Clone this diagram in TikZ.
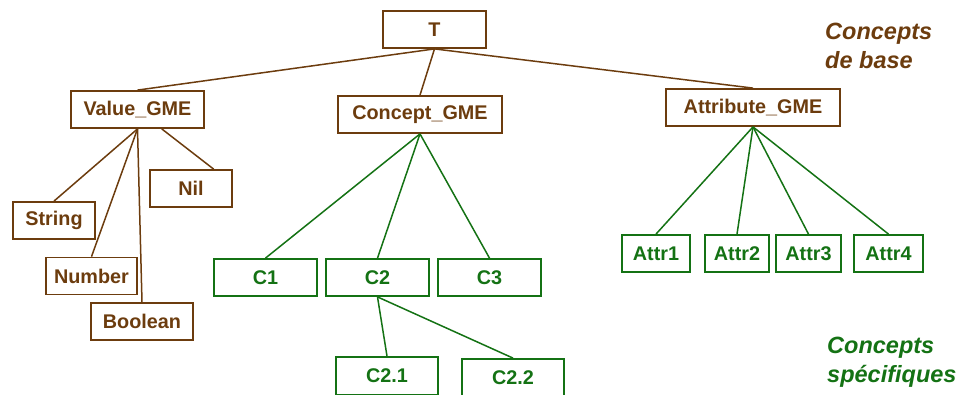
\documentclass[tikz,border=0pt]{standalone}
\usepackage{fontspec}
\setmainfont{Liberation Sans}
\usetikzlibrary{calc}
\definecolor{brn}{RGB}{108,60,14}
\definecolor{grn}{RGB}{20,114,20}
\tikzset{
  box/.style={draw, line width=1.8pt, inner sep=0pt, font=\bfseries\fontsize{19.8}{23}\selectfont},
  bbox/.style={box, draw=brn, text=brn},
  gbox/.style={box, draw=grn, text=grn},
  blink/.style={draw=brn, line width=1.5pt},
  glink/.style={draw=grn, line width=1.5pt},
  lbl/.style={inner sep=0pt, anchor=north west, align=left, font=\bfseries\itshape\fontsize{23.5}{28.5}\selectfont}
}
\begin{document}
\begin{tikzpicture}[x=1pt,y=-1pt]
\useasboundingbox (0,0) rectangle (968,394);
% base concepts
\node[bbox, minimum width=103pt, minimum height=37pt] (T) at (434.5,29.5) {T};
\node[bbox, minimum width=133pt, minimum height=37pt] (val) at (137.5,109.5) {Value\_GME};
\node[bbox, minimum width=164pt, minimum height=37pt] (con) at (420,114.5) {Concept\_GME};
\node[bbox, minimum width=174pt, minimum height=37pt] (att) at (753,107.5) {Attribute\_GME};
\node[bbox, minimum width=82pt, minimum height=37pt] (nil) at (191,188.5) {Nil};
\node[bbox, minimum width=82pt, minimum height=37pt] (str) at (54,220.5) {String};
\node[bbox, minimum width=91pt, minimum height=37pt] (num) at (91.5,276) {Number};
\node[bbox, minimum width=102pt, minimum height=37pt] (boo) at (142,321.5) {Boolean};
% specific concepts
\node[gbox, minimum width=103pt, minimum height=37pt] (c1) at (265.5,277.5) {C1};
\node[gbox, minimum width=103pt, minimum height=37pt] (c2) at (377.5,277.5) {C2};
\node[gbox, minimum width=103pt, minimum height=37pt] (c3) at (489.5,277.5) {C3};
\node[gbox, minimum width=102pt, minimum height=38pt] (c21) at (387,376) {C2.1};
\node[gbox, minimum width=102pt, minimum height=38pt] (c22) at (513,378) {C2.2};
\node[gbox, minimum width=68pt, minimum height=37pt] (a1) at (656,253.5) {Attr1};
\node[gbox, minimum width=64pt, minimum height=37pt] (a2) at (737,253.5) {Attr2};
\node[gbox, minimum width=65pt, minimum height=37pt] (a3) at (808.5,253.5) {Attr3};
\node[gbox, minimum width=69pt, minimum height=37pt] (a4) at (888.5,253.5) {Attr4};
% labels
\node[lbl, text=brn] (lb) at (825,23) {Concepts\\de base};
\node[lbl, text=grn] (ls) at (827,337) {Concepts\\spécifiques};
% links
\draw[blink] (T.south) -- (val.north);
\draw[blink] (T.south) -- (con.north);
\draw[blink] (T.south) -- (att.north);
\draw[blink] (val.south) -- (str.north);
\draw[blink] (val.south) -- (num.north);
\draw[blink] (val.south) -- (boo.north);
\draw[blink] ($(val.south west)!0.68!(val.south east)$) -- ($(nil.north west)!0.77!(nil.north east)$);
\draw[glink] (con.south) -- (c1.north);
\draw[glink] (con.south) -- (c2.north);
\draw[glink] (con.south) -- (c3.north);
\draw[glink] (c2.south) -- (c21.north);
\draw[glink] (c2.south) -- (c22.north);
\draw[glink] (att.south) -- (a1.north);
\draw[glink] (att.south) -- (a2.north);
\draw[glink] (att.south) -- (a3.north);
\draw[glink] (att.south) -- (a4.north);
\end{tikzpicture}
\end{document}
